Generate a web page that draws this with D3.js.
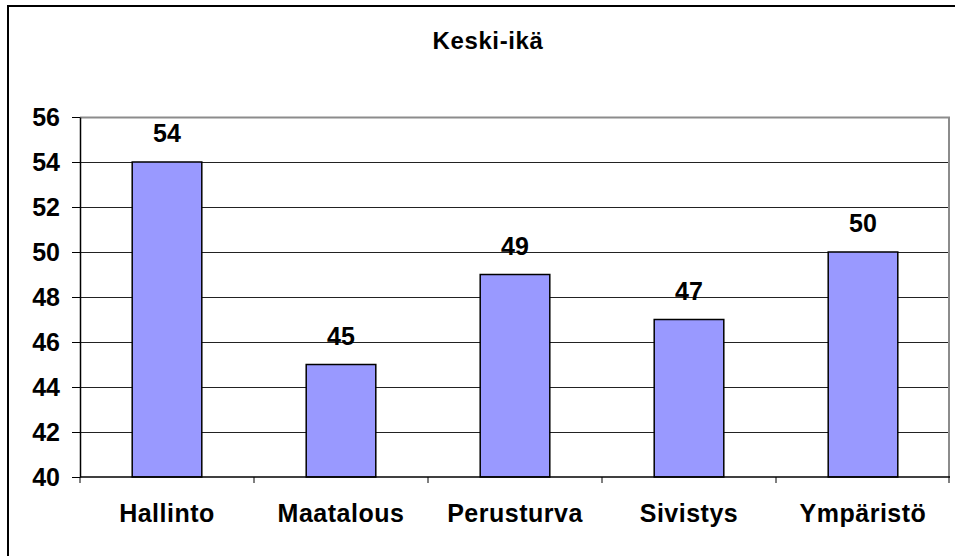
<!DOCTYPE html>
<html lang="fi">
<head>
<meta charset="UTF-8">
<title>Keski-ikä</title>
<script src="https://d3js.org/d3.v7.min.js"></script>
<style>
  body { margin: 0; background: #fff; }
  text { font-family: "Liberation Sans", Arial, sans-serif; font-weight: bold; fill: #000; }
</style>
</head>
<body>
<script>
// data
var categories = ["Hallinto", "Maatalous", "Perusturva", "Sivistys", "Ympäristö"];
var values = [54, 45, 49, 47, 50];
var yTicks = [40, 42, 44, 46, 48, 50, 52, 54, 56];
var title = "Keski-ikä";

var W = 955, H = 556;
var margin = {top: 117, right: 5, bottom: 79, left: 80};
var width = W - margin.left - margin.right,
    height = H - margin.top - margin.bottom;

var svg = d3.select("body").append("svg")
    .attr("width", W)
    .attr("height", H);

// outer chart frame (runs off the picture at right and bottom)
svg.append("rect")
    .attr("x", 8).attr("y", 6)
    .attr("width", 1000).attr("height", 600)
    .attr("fill", "none")
    .attr("stroke", "#000")
    .attr("stroke-width", 2);

svg.append("text")
    .attr("x", 488).attr("y", 49)
    .attr("text-anchor", "middle")
    .style("font-size", "24px")
    .style("letter-spacing", "0.6px")
    .text(title);

var g = svg.append("g")
    .attr("transform", "translate(" + margin.left + "," + margin.top + ")");

var x = d3.scaleBand()
    .domain(categories)
    .range([0, width])
    .paddingInner(0.6)
    .paddingOuter(0.3);

var xb = d3.scaleBand().domain(categories).range([0, width]);

var y = d3.scaleLinear()
    .domain([40, 56])
    .range([height, 0]);

// gridlines
g.append("g")
  .selectAll("line")
  .data(yTicks.slice(1, -1))
  .enter().append("line")
    .attr("x1", 0).attr("x2", width)
    .attr("y1", function(d) { return Math.round(y(d)) + 0.5; })
    .attr("y2", function(d) { return Math.round(y(d)) + 0.5; })
    .attr("stroke", "#222")
    .attr("stroke-width", 1);

// plot frame top/right (gray)
g.append("path")
    .attr("d", "M0," + 0.5 + "H" + (width - 1) + "V" + height)
    .attr("fill", "none")
    .attr("stroke", "#8c8c8c")
    .attr("stroke-width", 2);

// bars
g.append("g")
  .selectAll("rect")
  .data(values)
  .enter().append("rect")
    .attr("x", function(d, i) { return x(categories[i]); })
    .attr("y", function(d) { return y(d); })
    .attr("width", x.bandwidth())
    .attr("height", function(d) { return y(40) - y(d); })
    .attr("fill", "#9999ff")
    .attr("stroke", "#000")
    .attr("stroke-width", 1.5);

// value labels
g.append("g")
  .selectAll("text")
  .data(values)
  .enter().append("text")
    .attr("x", function(d, i) { return x(categories[i]) + x.bandwidth() / 2; })
    .attr("y", function(d) { return y(d) - 20; })
    .attr("text-anchor", "middle")
    .style("font-size", "25px")
    .text(function(d) { return d; });

// y axis
var yAxis = g.append("g")
    .call(d3.axisLeft(y).tickValues(yTicks).tickSize(8).tickPadding(12).tickSizeOuter(0));
yAxis.select(".domain").attr("stroke", "#000").attr("stroke-width", 1.5);
yAxis.selectAll(".tick line").attr("stroke", "#000");
yAxis.selectAll("text").style("font-size", "25px").style("font-family", "Liberation Sans, Arial, sans-serif");

// x axis: ticks at category boundaries
var xAxis = g.append("g")
    .attr("transform", "translate(0," + height + ")");
xAxis.append("line")
    .attr("x1", 0).attr("x2", width)
    .attr("stroke", "#000").attr("stroke-width", 1.5);
xAxis.selectAll(".bt")
  .data(categories.concat([null]))
  .enter().append("line")
    .attr("class", "bt")
    .attr("x1", function(d, i) { return i < categories.length ? xb(d) : width - 1; })
    .attr("x2", function(d, i) { return i < categories.length ? xb(d) : width - 1; })
    .attr("y1", 0).attr("y2", 6)
    .attr("stroke", "#000");
xAxis.selectAll(".cl")
  .data(categories)
  .enter().append("text")
    .attr("class", "cl")
    .attr("x", function(d) { return xb(d) + xb.bandwidth() / 2; })
    .attr("y", 45)
    .attr("text-anchor", "middle")
    .style("font-size", "25px")
    .style("letter-spacing", "0.5px")
    .text(function(d) { return d; });
</script>
</body>
</html>
